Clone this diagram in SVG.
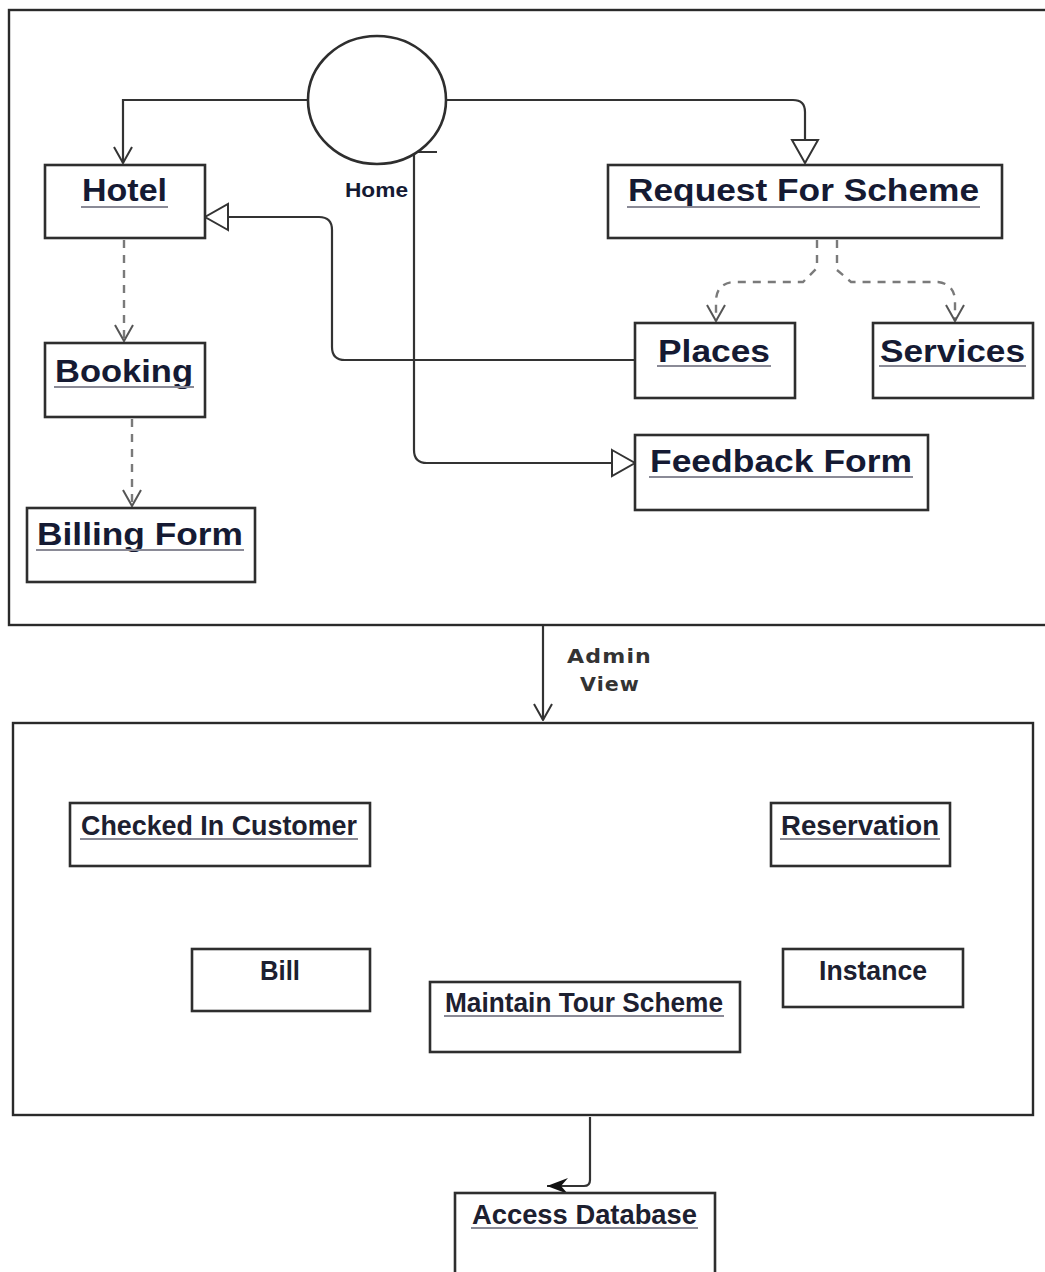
<svg xmlns="http://www.w3.org/2000/svg" width="1045" height="1272" viewBox="0 0 1045 1272">
<style>
.frame{fill:none;stroke:#2a2a2a;stroke-width:2.4}
.box{fill:#fff;stroke:#2e2e2e;stroke-width:2.6}
.ln{fill:none;stroke:#333;stroke-width:2.2}
.dash{fill:none;stroke:#7a7a7a;stroke-width:2.4;stroke-dasharray:8 7}
.t{font-family:"Liberation Sans",Arial,sans-serif;font-weight:bold;fill:#151a33;font-size:32px}
.s{font-family:"Liberation Sans",Arial,sans-serif;font-weight:bold;fill:#1d2030;font-size:27px}
.ul{stroke:#8a8a96;stroke-width:2}
.lbl{font-family:"DejaVu Sans",sans-serif;font-weight:bold;fill:#333;font-size:19px;letter-spacing:1px}
</style>
<defs>
<marker id="open" viewBox="0 0 18 20" refX="17" refY="10" markerWidth="18" markerHeight="20" markerUnits="userSpaceOnUse" orient="auto">
<path d="M1,1 L17,10 L1,19" fill="none" stroke="#333" stroke-width="2"/>
</marker>
<marker id="openg" viewBox="0 0 18 20" refX="17" refY="10" markerWidth="18" markerHeight="20" markerUnits="userSpaceOnUse" orient="auto">
<path d="M1,1 L17,10 L1,19" fill="none" stroke="#555" stroke-width="2"/>
</marker>
<marker id="tri" viewBox="0 0 26 30" refX="24" refY="15" markerWidth="26" markerHeight="30" markerUnits="userSpaceOnUse" orient="auto">
<path d="M1,2 L24,15 L1,28 Z" fill="#fff" stroke="#333" stroke-width="2"/>
</marker>
<marker id="fill" viewBox="0 0 22 18" refX="21" refY="9" markerWidth="22" markerHeight="18" markerUnits="userSpaceOnUse" orient="auto">
<path d="M0,1 L21,9 L0,17 L7,9 Z" fill="#111"/>
</marker>
</defs>

<g id="frames">
<rect id="user-view" class="frame" x="9" y="10" width="1045" height="615"/>
<rect id="admin-panel" class="frame" x="13" y="723" width="1020" height="392"/>
</g>

<g id="connectors">
<path class="ln" d="M308,100 H123 V163" marker-end="url(#open)"/>
<path class="ln" d="M447,100 H793 Q805,100 805,112 V163" marker-end="url(#tri)"/>
<path class="ln" d="M635,360 H345 Q332,360 332,347 V230 Q332,217 319,217 H205" marker-end="url(#tri)"/>
<path class="ln" d="M437,152 H414 V450 Q414,463 427,463 H635" marker-end="url(#tri)"/>
<path class="dash" d="M124,240 V341" marker-end="url(#openg)"/>
<path class="dash" d="M132,419 V506" marker-end="url(#openg)"/>
<path class="dash" d="M817,240 V268 L803,282 H734 Q717,283 716,300 V321" marker-end="url(#openg)"/>
<path class="dash" d="M837,240 V270 L851,282 H938 Q954,284 955,300 V321" marker-end="url(#openg)"/>
<path class="ln" d="M543,626 V720" marker-end="url(#open)"/>
<path class="ln" d="M590,1117 V1180 Q590,1186 584,1186 H547" marker-end="url(#fill)"/>
</g>

<g id="home">
<ellipse class="box" cx="377" cy="100" rx="69" ry="64"/>
<text class="t" x="345" y="197" textLength="63" lengthAdjust="spacingAndGlyphs" style="font-size:20px">Home</text>
</g>

<g id="hotel">
<rect class="box" x="45" y="165" width="160" height="73"/>
<text class="t" x="82" y="201" textLength="85" lengthAdjust="spacingAndGlyphs">Hotel</text>
<line class="ul" x1="81" y1="207" x2="168" y2="207"/>
</g>

<g id="request-for-scheme">
<rect class="box" x="608" y="165" width="394" height="73"/>
<text class="t" x="628" y="201" textLength="351" lengthAdjust="spacingAndGlyphs">Request For Scheme</text>
<line class="ul" x1="627" y1="207" x2="980" y2="207"/>
</g>

<g id="places">
<rect class="box" x="635" y="323" width="160" height="75"/>
<text class="t" x="658" y="362" textLength="112" lengthAdjust="spacingAndGlyphs">Places</text>
<line class="ul" x1="657" y1="366" x2="771" y2="366"/>
</g>

<g id="services">
<rect class="box" x="873" y="323" width="160" height="75"/>
<text class="t" x="880" y="362" textLength="145" lengthAdjust="spacingAndGlyphs">Services</text>
<line class="ul" x1="879" y1="366" x2="1026" y2="366"/>
</g>

<g id="feedback-form">
<rect class="box" x="635" y="435" width="293" height="75"/>
<text class="t" x="650" y="472" textLength="262" lengthAdjust="spacingAndGlyphs">Feedback Form</text>
<line class="ul" x1="649" y1="477" x2="913" y2="477"/>
</g>

<g id="booking">
<rect class="box" x="45" y="343" width="160" height="74"/>
<text class="t" x="55" y="382" textLength="138" lengthAdjust="spacingAndGlyphs">Booking</text>
<line class="ul" x1="54" y1="387" x2="194" y2="387"/>
</g>

<g id="billing-form">
<rect class="box" x="27" y="508" width="228" height="74"/>
<text class="t" x="37" y="545" textLength="206" lengthAdjust="spacingAndGlyphs">Billing Form</text>
<line class="ul" x1="36" y1="550" x2="244" y2="550"/>
</g>

<g id="admin-view-label">
<text class="lbl" x="567" y="663" textLength="85" lengthAdjust="spacingAndGlyphs">Admin</text>
<text class="lbl" x="580" y="691" textLength="60" lengthAdjust="spacingAndGlyphs">View</text>
</g>

<g id="checked-in-customer">
<rect class="box" x="70" y="803" width="300" height="63"/>
<text class="s" x="81" y="835" textLength="276" lengthAdjust="spacingAndGlyphs">Checked In Customer</text>
<line class="ul" x1="80" y1="839" x2="358" y2="839"/>
</g>

<g id="reservation">
<rect class="box" x="771" y="803" width="179" height="63"/>
<text class="s" x="781" y="835" textLength="158" lengthAdjust="spacingAndGlyphs">Reservation</text>
<line class="ul" x1="780" y1="839" x2="940" y2="839"/>
</g>

<g id="bill">
<rect class="box" x="192" y="949" width="178" height="62"/>
<text class="s" x="260" y="980" textLength="40" lengthAdjust="spacingAndGlyphs">Bill</text>
</g>

<g id="instance">
<rect class="box" x="783" y="949" width="180" height="58"/>
<text class="s" x="819" y="980" textLength="108" lengthAdjust="spacingAndGlyphs">Instance</text>
</g>

<g id="maintain-tour-scheme">
<rect class="box" x="430" y="982" width="310" height="70"/>
<text class="s" x="445" y="1012" textLength="278" lengthAdjust="spacingAndGlyphs">Maintain Tour Scheme</text>
<line class="ul" x1="444" y1="1016" x2="724" y2="1016"/>
</g>

<g id="access-database">
<rect class="box" x="455" y="1193" width="260" height="100"/>
<text class="s" x="472" y="1224" textLength="225" lengthAdjust="spacingAndGlyphs">Access Database</text>
<line class="ul" x1="471" y1="1228" x2="698" y2="1228"/>
</g>
</svg>
